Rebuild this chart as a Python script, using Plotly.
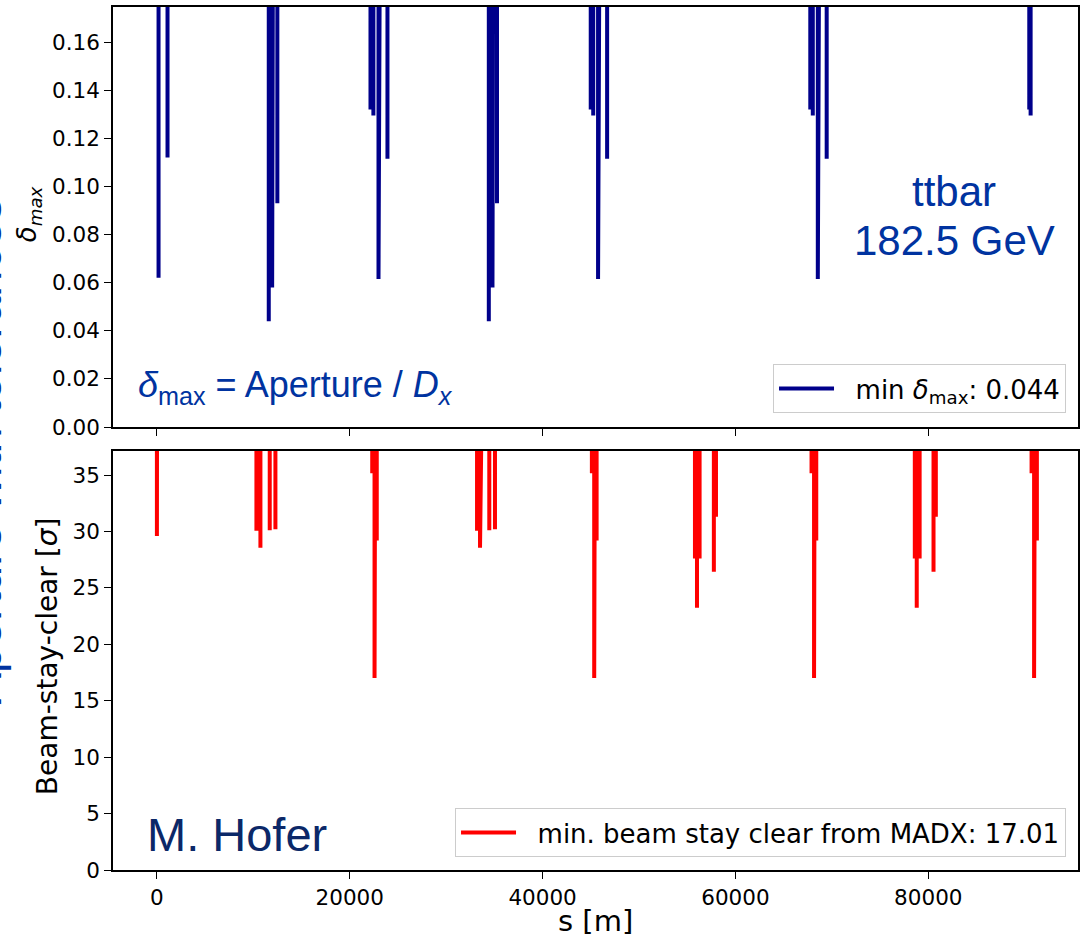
import plotly.graph_objects as go

# ---------------- data ----------------
S_START = 0
S_END = 91174            # ring circumference [m]
DELTA_OFF = 1.0          # delta_max far outside the plotted range between spikes
BSC_OFF = 100.0          # beam-stay-clear far outside the plotted range between spikes

# delta_max = Aperture / D_x : local minima (spike tips)
delta_s = [170, 1100,
           11600, 11800, 11950, 12490,
           22150, 22450, 22980, 23910,
           34420, 34620, 34800, 35270,
           44990, 45250, 45750, 46690,
           67760, 68020, 68540, 69460,
           90470, 90610]
delta_val = [0.062, 0.112,
             0.044, 0.058, 0.058, 0.093,
             0.132, 0.1295, 0.0615, 0.1115,
             0.044, 0.058, 0.058, 0.093,
             0.132, 0.1295, 0.0615, 0.1115,
             0.132, 0.1295, 0.0615, 0.1115,
             0.132, 0.1295]

# beam-stay-clear [sigma] : local minima (spike tips)
bsc_s = [0, 80,
         10320, 10550, 10735, 11700, 12290,
         22330, 22570, 22800,
         33200, 33420, 33510, 34470, 35060,
         45110, 45350, 45600,
         55800, 56010, 56280, 57760, 57980,
         67890, 68150, 68380,
         78600, 78800, 79100, 80540, 80780,
         90710, 90970, 91260]
bsc_val = [29.6, 33.7,
           30.07, 30.07, 28.56, 30.1, 30.2,
           35.15, 17.01, 29.2,
           30.07, 30.07, 28.56, 30.1, 30.2,
           35.15, 17.01, 29.2,
           27.6, 23.25, 27.6, 26.43, 31.3,
           35.15, 17.01, 29.2,
           27.6, 23.25, 27.6, 26.43, 31.3,
           35.15, 17.01, 29.2]

x_ticks = [0, 20000, 40000, 60000, 80000]
delta_ticks = [0.00, 0.02, 0.04, 0.06, 0.08, 0.10, 0.12, 0.14, 0.16]
bsc_ticks = [0, 5, 10, 15, 20, 25, 30, 35]


def spike_series(s_list, v_list, off):
    xs, ys = [S_START], [off]
    for s, v in zip(s_list, v_list):
        xs += [s, s, s]
        ys += [off, v, off]
    xs.append(S_END)
    ys.append(off)
    return xs, ys


dx, dy = spike_series(delta_s, delta_val, DELTA_OFF)
bx, by = spike_series(bsc_s, bsc_val, BSC_OFF)

# ---------------- figure ----------------
W, H = 1082, 943
L, R, T, B = 113, 2, 7, 73
PW, PH = W - L - R, H - T - B


def px(x):
    return (x - L) / PW


def py(y):
    return (H - B - y) / PH


NB = "\u00a0"
fig = go.Figure()
fig.add_trace(go.Scatter(x=dx, y=dy, mode="lines",
                         line=dict(color="#00008b", width=4),
                         name=NB * 2 + "min <i>δ</i><sub>max</sub>: 0.044",
                         xaxis="x", yaxis="y", legend="legend", showlegend=True))
fig.add_trace(go.Scatter(x=bx, y=by, mode="lines",
                         line=dict(color="#ff0000", width=4),
                         name=NB * 2 + "min. beam stay clear from MADX: 17.01",
                         xaxis="x2", yaxis="y2", legend="legend2", showlegend=True))

tickfont = dict(family="DejaVu Sans", size=21.5, color="black")
common_ax = dict(showline=True, mirror=True, linecolor="black", linewidth=1.5,
                 ticks="outside", ticklen=7, tickwidth=1.3, tickcolor="black",
                 showgrid=False, zeroline=False, tickfont=tickfont)
x_range = [-4554, 95524]

leg_common = dict(xanchor="right", yanchor="bottom", bgcolor="white",
                  bordercolor="#cccccc", borderwidth=1,
                  font=dict(family="DejaVu Sans", size=26, color="black"),
                  itemwidth=55, visible=True)

fig.update_layout(
    width=W, height=H,
    margin=dict(l=L, r=R, t=T, b=B),
    paper_bgcolor="white", plot_bgcolor="white",
    showlegend=True,
    font=dict(family="DejaVu Sans", color="black"),
    xaxis=dict(domain=[0, 1], anchor="y", range=x_range, tickvals=x_ticks,
               showticklabels=False, **common_ax),
    yaxis=dict(domain=[py(427), 1], anchor="x", range=[0, 0.1746],
               tickvals=delta_ticks, tickformat=".2f", **common_ax),
    xaxis2=dict(domain=[0, 1], anchor="y2", range=x_range, tickvals=x_ticks,
                tickformat="d", **common_ax),
    yaxis2=dict(domain=[0, py(451)], anchor="x2", range=[0, 37.13],
                tickvals=bsc_ticks, **common_ax),
    legend=dict(x=px(1068), y=py(413), **leg_common),
    legend2=dict(x=px(1068), y=py(857), **leg_common),
)

blue = "#0033a0"
ann = [
    dict(text="ttbar", x=px(956), y=py(192), font=dict(family="Liberation Sans", size=42, color=blue)),
    dict(text="182.5 GeV", x=px(956), y=py(241), font=dict(family="Liberation Sans", size=42, color=blue)),
    dict(text="<i>δ</i><sub>max</sub> = Aperture / <i>D</i><sub><i>x</i></sub>", x=px(136), y=py(387),
         xanchor="left", font=dict(family="Liberation Sans", size=36, color=blue)),
    dict(text="M. Hofer", x=px(145), y=py(834), xanchor="left",
         font=dict(family="Liberation Sans", size=47, color="#0b2868")),
    dict(text="Aperture with tolerances", x=px(-16), y=py(451), textangle=-90,
         font=dict(family="Liberation Sans", size=47, color=blue)),
    dict(text="<i>δ</i><sub><i>max</i></sub>", x=px(29), y=py(214), textangle=-90,
         font=dict(family="DejaVu Sans", size=26, color="black")),
    dict(text="Beam-stay-clear [<i>σ</i>]", x=px(47), y=py(657), textangle=-90,
         font=dict(family="DejaVu Sans", size=28, color="black")),
    dict(text="s [m]", x=px(597), y=py(921),
         font=dict(family="DejaVu Sans", size=29, color="black")),
]
for a in ann:
    a.setdefault("xanchor", "center")
    a.setdefault("yanchor", "middle")
    fig.add_annotation(xref="paper", yref="paper", showarrow=False, **a)

fig.write_html("out.html")
